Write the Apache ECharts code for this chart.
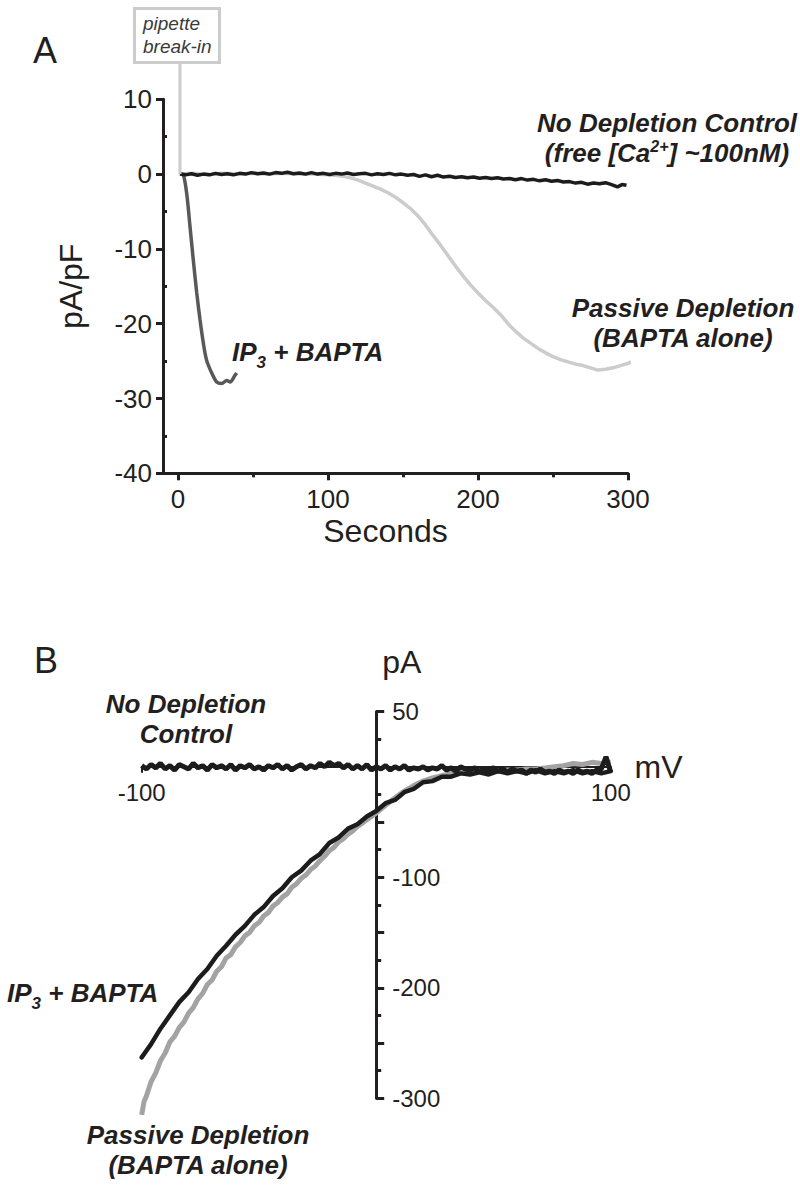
<!DOCTYPE html>
<html>
<head>
<meta charset="utf-8">
<title>Store depletion currents</title>
<script src="https://cdn.jsdelivr.net/npm/echarts@6/dist/echarts.min.js"></script>
<style>
  html, body { margin: 0; padding: 0; background: #fff; }
  #chart { width: 800px; height: 1186px; }
</style>
</head>
<body>
<div id="chart"></div>
<script>
const FONT = "'Liberation Sans', Arial, Helvetica, sans-serif";
const INK = '#231f20';

// ---- Panel A: current density (pA/pF) vs time (s) ----
const breakInTime = 1.3;
const timeTicksA = [0, 100, 200, 300];
const timeMinorA = [50, 150, 250];
const densityMinorA = [-35, -25, -15, -5, 5];

const controlA = [
  [1.3, 0], [5, -0.1], [9, 0.05], [13, -0.15], [17, 0], [21, -0.1], [25, 0.1], [29, -0.05],
  [33, 0.05], [37, -0.1], [41, 0.1], [45, 0], [49, 0.2], [53, 0.05], [57, 0.15], [61, 0],
  [65, 0.2], [69, 0.1], [73, 0.25], [77, 0.05], [81, 0.15], [85, 0], [89, 0.2], [93, 0],
  [97, 0.1], [101, -0.05], [105, 0.1], [109, 0], [113, 0.15], [117, -0.05], [121, 0.05], [125, 0.1],
  [129, -0.1], [133, 0.05], [137, -0.05], [141, 0.1], [145, -0.1], [149, 0], [153, -0.15], [157, -0.05],
  [161, -0.3], [165, -0.1], [169, -0.35], [173, -0.15], [177, -0.4], [181, -0.3], [185, -0.45], [189, -0.35],
  [193, -0.5], [197, -0.4], [201, -0.55], [205, -0.45], [209, -0.6], [213, -0.5], [217, -0.65], [221, -0.6],
  [225, -0.75], [229, -0.6], [233, -0.8], [237, -0.7], [241, -0.9], [245, -0.75], [249, -0.95], [253, -0.85],
  [257, -1.05], [261, -1.0], [265, -1.2], [269, -1.1], [273, -1.35], [277, -1.2], [281, -1.3], [285, -1.15],
  [289, -1.4], [293, -1.7], [296, -1.4], [299, -1.5]
];

const passiveA = [
  [1.3, 0], [10, 0.1], [20, -0.1], [30, 0.1], [40, 0], [50, 0.1], [60, 0], [70, 0.1], [80, 0],
  [90, 0], [100, -0.1], [106, -0.2], [110, -0.3], [115, -0.5], [120, -0.8], [125, -1.2], [130, -1.6],
  [135, -2.0], [140, -2.5], [145, -3.1], [150, -3.8], [155, -4.6], [160, -5.6], [165, -6.8], [170, -8.2],
  [175, -9.5], [180, -10.9], [185, -12.3], [190, -13.6], [195, -14.8], [200, -15.9], [205, -16.9],
  [210, -17.8], [215, -18.8], [220, -20.0], [225, -21.0], [230, -21.9], [235, -22.6], [240, -23.3],
  [245, -23.9], [250, -24.4], [255, -24.8], [260, -25.1], [265, -25.4], [270, -25.6], [275, -25.9],
  [280, -26.2], [285, -26.1], [290, -25.9], [295, -25.6], [300, -25.3], [302, -25.1]
];

const ip3A = [
  [1.3, 0], [3.5, -0.1], [5.8, -2.6], [8, -7.0], [10.2, -11.5], [12.5, -15.9], [14.7, -19.5],
  [16.9, -22.6], [19.1, -24.9], [22.5, -26.6], [25.8, -27.8], [29.1, -28.0], [32.5, -27.6],
  [34.7, -27.8], [38, -26.9], [39.1, -26.6]
];

// ---- Panel B: current (pA) vs voltage (mV) ----
const voltTicksB = [-100, 100];
const currentLabelsB = [50, -100, -200, -300];

const controlB_mV = [
  -100, -98, -96, -94, -92, -90, -88, -86, -84, -82, -80, -78, -76, -74, -72, -70, -68, -66, -64, -62,
  -60, -58, -56, -54, -52, -50, -48, -46, -44, -42, -40, -38, -36, -34, -32, -30, -28, -26, -24, -22,
  -20, -18, -16, -14, -12, -10, -8, -6, -4, -2, 0, 2, 4, 6, 8, 10, 12, 14, 16, 18,
  20, 22, 24, 26, 28, 30, 32, 34, 36, 38, 40, 42, 44, 46, 48, 50, 52, 54, 56, 58,
  60, 62, 64, 66, 68, 70, 72, 74, 76, 78, 80, 82, 84, 86, 88, 90, 92, 94, 96, 98, 100
];
const controlB_pA = [
  1, -2, 2, -1, 3, -2, 1, -3, 2, 0, -2, 3, -1, 1, -3, 2, -1, 1, -2, 2,
  -3, 1, -1, 2, -2, 0, -3, 1, -1, 2, -2, 1, -3, 0, 2, -2, 1, -1, 3, 0,
  4, 1, 3, -1, 2, -2, 1, -2, 2, -3, 0, -2, 1, -3, 0, -2, 1, -3, -1, -2,
  0, -3, -1, -2, 1, -3, -1, -4, 0, -2, -3, -1, -4, -2, -3, -1, -4, -2, -5, -2,
  -4, -3, -6, -3, -5, -2, -5, -4, -6, -3, -5, -4, -6, -3, -5, -4, -6, -3, -2, 9, -5
];

const ip3B = [
  [-100, -263], [-98, -257], [-96, -251], [-92, -237], [-88, -225], [-84, -213], [-80, -204],
  [-76, -192], [-72, -183], [-68, -171], [-64, -162], [-60, -152], [-56, -144], [-52, -134],
  [-48, -127], [-44, -117], [-40, -110], [-36, -100], [-32, -94], [-28, -85], [-24, -79],
  [-20, -69], [-16, -64], [-12, -56], [-8, -52], [-4, -45], [0, -40], [4, -33], [8, -30],
  [12, -23], [16, -20], [20, -14], [24, -13], [28, -9], [32, -9], [36, -6], [40, -7],
  [44, -5], [48, -7], [52, -4], [56, -6], [60, -4], [64, -6], [68, -3], [72, -6], [76, -4],
  [80, -6], [84, -3], [88, -6], [92, -4], [96, -6], [100, -4]
];

const passiveB = [
  [-100, -315], [-99, -303], [-98, -298], [-96, -285], [-94, -277], [-92, -266], [-90, -259],
  [-88, -249], [-86, -244], [-84, -236], [-82, -231], [-80, -223], [-78, -218], [-76, -210],
  [-74, -205], [-72, -197], [-70, -193], [-68, -185], [-66, -181], [-64, -173], [-62, -170],
  [-60, -163], [-58, -159], [-56, -153], [-54, -150], [-52, -144], [-50, -141], [-48, -135],
  [-46, -132], [-44, -126], [-42, -123], [-40, -118], [-38, -115], [-36, -109], [-34, -106],
  [-32, -101], [-30, -98], [-28, -93], [-26, -90], [-24, -85], [-22, -81], [-20, -76],
  [-18, -73], [-16, -68], [-14, -65], [-12, -61], [-10, -58], [-8, -54], [-6, -51], [-4, -48],
  [-2, -45], [0, -42], [4, -35], [8, -28], [12, -22], [16, -17], [20, -13], [24, -10], [28, -8],
  [32, -6], [36, -5], [40, -5], [44, -4], [48, -4], [52, -4], [56, -3], [60, -3], [64, -2],
  [68, -2], [72, -1], [76, 0], [80, 1], [84, 3], [88, 2], [92, 4], [96, 3], [100, 4]
];

const chart = echarts.init(document.getElementById('chart'), null, { renderer: 'svg' });

const axisLineStyle = { color: INK, width: 3 };
const labelStyle = { color: INK, fontFamily: FONT, fontSize: 26 };

const option = {
  animation: false,
  backgroundColor: '#fff',
  textStyle: { fontFamily: FONT, color: INK },
  grid: [
    { left: 163, top: 99.3, width: 465, height: 374 },
    { left: 141.7, top: 711.5, width: 469, height: 386.8 }
  ],
  xAxis: [
    {
      gridIndex: 0, type: 'value', min: -10, max: 300, position: 'bottom',
      axisLine: { onZero: false, lineStyle: axisLineStyle },
      axisTick: { customValues: timeTicksA, length: 7, lineStyle: { color: INK, width: 3 } },
      axisLabel: { customValues: timeTicksA, margin: 13, ...labelStyle },
      splitLine: { show: false },
      name: 'Seconds', nameLocation: 'middle', nameGap: 42,
      nameTextStyle: { fontSize: 32, fontFamily: FONT, color: INK, padding: [0, 20, 0, 0] }
    },
    {
      gridIndex: 0, type: 'value', min: -10, max: 300, position: 'bottom',
      axisLine: { show: false, onZero: false },
      axisTick: { customValues: timeMinorA, length: 4, lineStyle: { color: INK, width: 3 } },
      axisLabel: { show: false },
      splitLine: { show: false }
    },
    {
      // placed through the origin below (offset from the grid's bottom edge)
      gridIndex: 1, type: 'value', min: -100, max: 100, position: 'bottom', offset: 0,
      axisLine: { onZero: false, lineStyle: { color: INK, width: 2 } },
      axisTick: { customValues: voltTicksB, length: 6, lineStyle: { color: INK, width: 2 } },
      axisLabel: { customValues: voltTicksB, margin: 14, color: INK, fontFamily: FONT, fontSize: 24 },
      splitLine: { show: false },
      name: 'mV', nameLocation: 'end', nameGap: 20,
      nameTextStyle: { fontSize: 32, fontFamily: FONT, color: INK }
    }
  ],
  yAxis: [
    {
      gridIndex: 0, type: 'value', min: -40, max: 10, interval: 10, position: 'left',
      axisLine: { onZero: false, lineStyle: axisLineStyle },
      axisTick: { length: 7, lineStyle: { color: INK, width: 3 } },
      axisLabel: { margin: 11, ...labelStyle },
      splitLine: { show: false },
      name: 'pA/pF', nameLocation: 'middle', nameGap: 76,
      nameTextStyle: { fontSize: 32, fontFamily: FONT, color: INK }
    },
    {
      gridIndex: 0, type: 'value', min: -40, max: 10, position: 'left',
      axisLine: { show: false, onZero: false },
      axisTick: { inside: true, customValues: densityMinorA, length: 4, lineStyle: { color: INK, width: 3 } },
      axisLabel: { show: false },
      splitLine: { show: false }
    },
    {
      // placed through the origin below (offset from the grid's left edge)
      gridIndex: 1, type: 'value', min: -300, max: 50, interval: 50, position: 'left', offset: 0,
      axisLine: { onZero: false, lineStyle: axisLineStyle },
      axisTick: { inside: true, length: 8, lineStyle: { color: INK, width: 3 } },
      minorTick: { show: true, splitNumber: 2, length: 5, lineStyle: { color: INK, width: 3 } },
      axisLabel: { inside: true, customValues: currentLabelsB, margin: 16, color: INK, fontFamily: FONT, fontSize: 24 },
      splitLine: { show: false },
      name: 'pA', nameLocation: 'end', nameGap: 34,
      nameTextStyle: { fontSize: 32, fontFamily: FONT, color: INK, align: 'left', padding: [0, 0, 0, 6] }
    }
  ],
  series: [
    {
      name: 'Passive Depletion (A)', type: 'line', xAxisIndex: 0, yAxisIndex: 0,
      data: passiveA, showSymbol: false, clip: false,
      lineStyle: { color: '#cccccc', width: 3.5 }
    },
    {
      name: 'IP3 + BAPTA (A)', type: 'line', xAxisIndex: 0, yAxisIndex: 0,
      data: ip3A, showSymbol: false, clip: false, smooth: 0.3,
      lineStyle: { color: '#595959', width: 3.5 }
    },
    {
      name: 'No Depletion Control (A)', type: 'line', xAxisIndex: 0, yAxisIndex: 0,
      data: controlA, showSymbol: false, clip: false,
      lineStyle: { color: '#1c1c1c', width: 3.5 }
    },
    {
      name: 'Passive Depletion (B)', type: 'line', xAxisIndex: 2, yAxisIndex: 2,
      data: passiveB, showSymbol: false, clip: false,
      lineStyle: { color: '#a3a3a3', width: 5 }
    },
    {
      name: 'IP3 + BAPTA (B)', type: 'line', xAxisIndex: 2, yAxisIndex: 2,
      data: ip3B, showSymbol: false, clip: false,
      lineStyle: { color: '#1c1c1c', width: 4.5, cap: 'round' }
    },
    {
      name: 'No Depletion Control (B)', type: 'line', xAxisIndex: 2, yAxisIndex: 2,
      data: controlB_mV.map((v, i) => [v, controlB_pA[i]]),
      showSymbol: false, clip: false,
      lineStyle: { color: '#1c1c1c', width: 5 }
    }
  ]
};

chart.setOption(option);

// panel B axes cross at the origin: shift them there using the grid's own scale
const gridB = chart.getModel().getComponent('grid', 1).coordinateSystem.getRect();
const originB = chart.convertToPixel({ gridIndex: 1 }, [0, 0]);
chart.setOption({
  xAxis: [{}, {}, { offset: originB[1] - (gridB.y + gridB.height) }],
  yAxis: [{}, {}, { offset: gridB.x - originB[0] }]
});

// text labels and the break-in callout
const richLabel = {
  a: { fontFamily: FONT, fontSize: 26, fontWeight: 'bold', fontStyle: 'italic', color: INK, lineHeight: 30 },
  s: { fontFamily: FONT, fontSize: 16, fontWeight: 'bold', fontStyle: 'italic', color: INK, lineHeight: 16, verticalAlign: 'top' },
  d: { fontFamily: FONT, fontSize: 17, fontWeight: 'bold', fontStyle: 'italic', color: INK, lineHeight: 17, verticalAlign: 'bottom' },
  m: { fontFamily: FONT, fontSize: 26, fontWeight: 'bold', fontStyle: 'italic', color: INK, lineHeight: 38 }
};
function label(x, y, text, align, lh) {
  return {
    type: 'text', x: x, y: y, z: 100,
    style: {
      text: text, rich: richLabel, fill: INK, fontFamily: FONT,
      align: align, textAlign: align, verticalAlign: 'middle', textVerticalAlign: 'middle',
      lineHeight: lh || 30
    }
  };
}

const breakIn = chart.convertToPixel({ gridIndex: 0 }, [breakInTime, 0]);

chart.setOption({
  graphic: [
    { type: 'text', x: 45, y: 50, style: { text: 'A', fontFamily: FONT, fontSize: 36, fill: INK, align: 'center', verticalAlign: 'middle' } },
    { type: 'text', x: 46, y: 660, style: { text: 'B', fontFamily: FONT, fontSize: 36, fill: INK, align: 'center', verticalAlign: 'middle' } },
    {
      type: 'line', z: 50,
      shape: { x1: breakIn[0], y1: 63, x2: breakIn[0], y2: breakIn[1] },
      style: { stroke: '#cccccc', lineWidth: 3 }
    },
    {
      type: 'rect', z: 60,
      shape: { x: 134.5, y: 8.5, width: 85, height: 54 },
      style: { fill: '#ffffff', stroke: '#cccccc', lineWidth: 3 }
    },
    {
      type: 'text', z: 61, x: 143, y: 12,
      style: { text: 'pipette\nbreak-in', fontFamily: FONT, fontSize: 19, fontStyle: 'italic', fill: '#3a3a3a', lineHeight: 23, align: 'left', verticalAlign: 'top' }
    },
    label(667, 138, '{a|No Depletion Control}\n{a|(free [Ca}{s|2+}{a|] ~100nM)}', 'center'),
    label(683, 323, '{a|Passive Depletion}\n{a|(BAPTA alone)}', 'center'),
    label(232, 352, '{m|IP}{d|3}{m| + BAPTA}', 'left', 38),
    label(186, 719, '{a|No Depletion}\n{a|Control}', 'center'),
    label(7, 993, '{m|IP}{d|3}{m| + BAPTA}', 'left', 38),
    label(198, 1150, '{a|Passive Depletion}\n{a|(BAPTA alone)}', 'center')
  ]
});
</script>
</body>
</html>
